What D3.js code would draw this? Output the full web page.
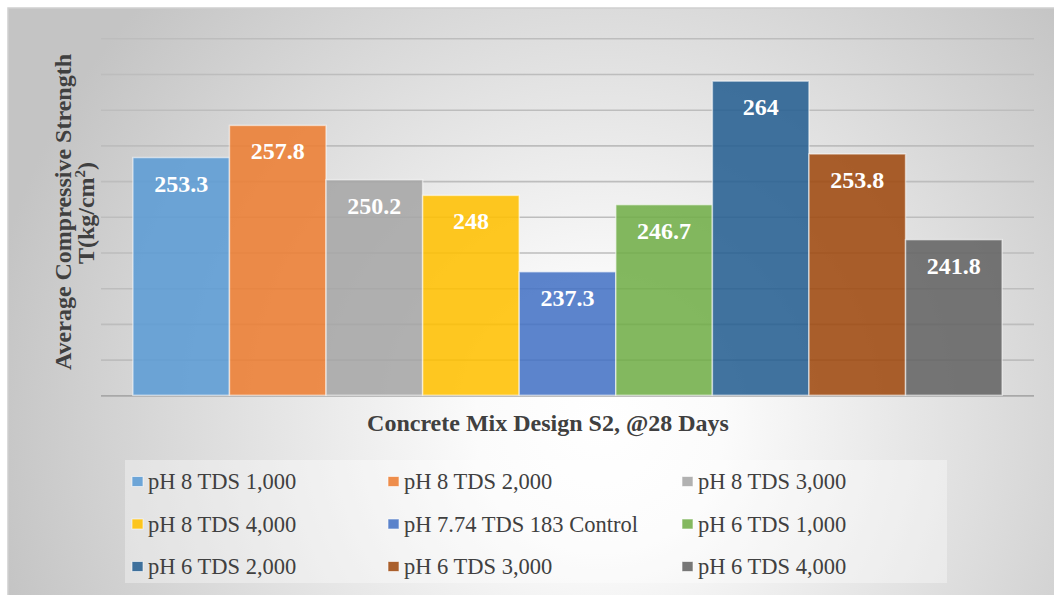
<!DOCTYPE html>
<html>
<head>
<meta charset="utf-8">
<script src="https://cdn.jsdelivr.net/npm/d3@7"></script>
<style>
  body { margin: 0; background: #fff; }
  text { font-family: "Liberation Serif", "Times New Roman", serif; }
</style>
</head>
<body>
<script>
//chart data
var series = ["pH 8 TDS 1,000", "pH 8 TDS 2,000", "pH 8 TDS 3,000",
              "pH 8 TDS 4,000", "pH 7.74 TDS 183 Control", "pH 6 TDS 1,000",
              "pH 6 TDS 2,000", "pH 6 TDS 3,000", "pH 6 TDS 4,000"];
var values = [253.3, 257.8, 250.2, 248, 237.3, 246.7, 264, 253.8, 241.8];
var yDomain = [220, 270];
var colors = ["#5B9BD5", "#ED7D31", "#A5A5A5", "#FFC000", "#4472C4",
              "#70AD47", "#255E91", "#9E480E", "#636363"];
var xTitle = "Concrete Mix Design S2, @28 Days";

window.onload = function(){
    var width = 1054, height = 595;

    var svg = d3.select("body")
        .append("svg")
        .attr("width", width)
        .attr("height", height);

    //radial background like the office chart area
    var defs = svg.append("defs");
    var grad = defs.append("radialGradient")
        .attr("id", "bg")
        .attr("gradientUnits", "userSpaceOnUse")
        .attr("cx", 600).attr("cy", 420).attr("r", 620);
    grad.append("stop").attr("offset", "0%").attr("stop-color", "#ffffff");
    grad.append("stop").attr("offset", "20%").attr("stop-color", "#fbfbfb");
    grad.append("stop").attr("offset", "100%").attr("stop-color", "#c4c4c4");

    svg.append("rect")
        .attr("x", 8).attr("y", 8)
        .attr("width", width).attr("height", height)
        .style("fill", "url(#bg)")
        .style("stroke", "#cfcfcf")
        .style("stroke-width", 1.5);

    //scales
    var x = d3.scaleBand()
        .domain(series)
        .range([101, 1034])
        .paddingInner(0)
        .paddingOuter(0.33);

    var y = d3.scaleLinear()
        .domain(yDomain)
        .range([395.3, 38.3]);

    //gridlines, no tick labels
    var grid = svg.append("g")
        .attr("transform", "translate(101,0)")
        .call(d3.axisLeft(y).ticks(10).tickSize(-933).tickFormat(""));
    grid.select(".domain").remove();
    grid.selectAll(".tick line")
        .style("stroke", "#bdbdbd")
        .style("stroke-width", 1.6);
    grid.selectAll(".tick").filter(function(d){ return d === yDomain[0]; })
        .select("line").style("stroke", "#a8a8a8").style("stroke-width", 1.8);

    //bars
    svg.selectAll(".bar")
        .data(values)
        .enter()
        .append("rect")
        .attr("class", "bar")
        .attr("x", function(d, i){ return x(series[i]); })
        .attr("y", function(d){ return y(d); })
        .attr("width", x.bandwidth())
        .attr("height", function(d){ return y(yDomain[0]) - y(d); })
        .style("fill", function(d, i){ return colors[i]; })
        .style("fill-opacity", 0.87)
        .style("stroke", "#ffffff")
        .style("stroke-opacity", 0.55)
        .style("stroke-width", 1.5);

    //value labels
    svg.selectAll(".lbl")
        .data(values)
        .enter()
        .append("text")
        .attr("class", "lbl")
        .attr("x", function(d, i){ return x(series[i]) + x.bandwidth() / 2; })
        .attr("y", function(d){ return y(d) + 34; })
        .attr("text-anchor", "middle")
        .style("font-size", "24px")
        .style("font-weight", "bold")
        .style("fill", "#ffffff")
        .text(function(d){ return d; });

    //axis titles
    svg.append("text")
        .attr("x", 548)
        .attr("y", 431)
        .attr("text-anchor", "middle")
        .style("font-size", "24px")
        .style("font-weight", "bold")
        .style("fill", "#404040")
        .text(xTitle);

    svg.append("text")
        .attr("transform", "translate(71,212) rotate(-90)")
        .attr("text-anchor", "middle")
        .style("font-size", "24px")
        .style("font-weight", "bold")
        .style("fill", "#404040")
        .text("Average Compressive Strength");

    var t2 = svg.append("text")
        .attr("transform", "translate(94,213) rotate(-90)")
        .attr("text-anchor", "middle")
        .style("font-size", "24px")
        .style("font-weight", "bold")
        .style("fill", "#404040");
    t2.append("tspan").text("T(kg/cm");
    t2.append("tspan").attr("dy", -9).style("font-size", "15px").text("2");
    t2.append("tspan").attr("dy", 9).text(")");

    //legend
    svg.append("rect")
        .attr("x", 125).attr("y", 460)
        .attr("width", 822).attr("height", 123)
        .style("fill", "#ffffff")
        .style("fill-opacity", 0.35);

    var colX = [132, 388, 682];
    var rowY = [481.5, 524, 566.5];

    var leg = svg.selectAll(".leg")
        .data(series)
        .enter()
        .append("g")
        .attr("class", "leg")
        .attr("transform", function(d, i){
            return "translate(" + colX[i % 3] + "," + rowY[Math.floor(i / 3)] + ")";
        });

    leg.append("rect")
        .attr("x", 0).attr("y", -5)
        .attr("width", 11).attr("height", 10)
        .style("fill", function(d, i){ return colors[i]; })
        .style("fill-opacity", 0.87)
        .style("stroke", "#ffffff")
        .style("stroke-opacity", 0.6)
        .style("stroke-width", 1);

    leg.append("text")
        .attr("x", 16)
        .attr("y", 7.5)
        .style("font-size", "22.5px")
        .style("fill", "#404040")
        .text(function(d){ return d; });
};
</script>
</body>
</html>
